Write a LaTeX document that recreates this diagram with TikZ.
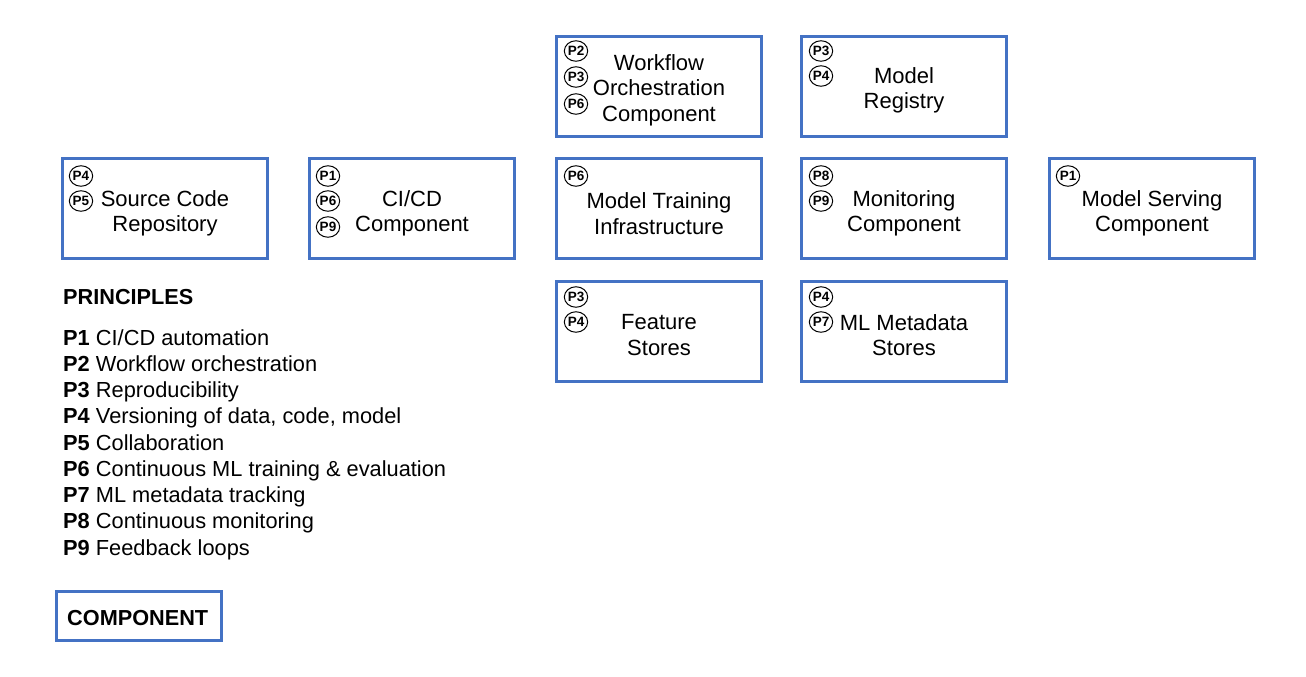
\documentclass[tikz,border=0pt]{standalone}
\usepackage{fontspec}
\usetikzlibrary{shapes.geometric}
\setmainfont{Liberation Sans}
\definecolor{boxblue}{HTML}{4472C4}
\begin{document}
\begin{tikzpicture}[x=1pt,y=-1pt,
  comp/.style={draw=boxblue,line width=3pt,minimum width=205pt,minimum height=100pt,inner sep=0pt,
    align=center,font=\fontsize{22}{25.5}\selectfont},
  badge/.style={draw,ellipse,line width=1pt,minimum width=22pt,minimum height=20.5pt,inner sep=0pt,
    font=\bfseries\fontsize{13.5}{14}\selectfont},
  txt/.style={align=center,font=\fontsize{22}{25.5}\selectfont}]
\useasboundingbox (0,0) rectangle (1306,677);
% boxes
\node[comp] (wf) at (659,86.5) {};
\node[txt] (wft) at (659,90) {Workflow\\Orchestration\\Component};
\node[badge] (wf1) at (576,51) {P2};
\node[badge] (wf2) at (576,77) {P3};
\node[badge] (wf3) at (576,104) {P6};

\node[comp] (mr) at (904,86.5) {};
\node[txt] (mrt) at (904,90.5) {Model\\Registry};
\node[badge] (mr1) at (821,51) {P3};
\node[badge] (mr2) at (821,76) {P4};

\node[comp] (sc) at (165,208.5) {};
\node[txt] (sct) at (165,213.5) {Source Code\\Repository};
\node[badge] (sc1) at (81,176) {P4};
\node[badge] (sc2) at (81,201) {P5};

\node[comp] (ci) at (412,208.5) {};
\node[txt] (cit) at (412,213.5) {CI/CD\\Component};
\node[badge] (ci1) at (328,176) {P1};
\node[badge] (ci2) at (328,201) {P6};
\node[badge] (ci3) at (328,227) {P9};

\node[comp] (tr) at (659,208.5) {};
\node[txt] (trt) at (659,213.5) {Model Training\\Infrastructure};
\node[badge] (tr1) at (576,176) {P6};

\node[comp] (mo) at (904,208.5) {};
\node[txt] (mot) at (904,213.5) {Monitoring\\Component};
\node[badge] (mo1) at (821,176) {P8};
\node[badge] (mo2) at (821,201) {P9};

\node[comp] (ms) at (1152,208.5) {};
\node[txt] (mst) at (1152,213.5) {Model Serving\\Component};
\node[badge] (ms1) at (1068,176) {P1};

\node[comp] (fs) at (659,331) {};
\node[txt] (fst) at (659,335) {Feature\\Stores};
\node[badge] (fs1) at (576,297) {P3};
\node[badge] (fs2) at (576,322) {P4};

\node[comp] (md) at (904,331) {};
\node[txt] (mdt) at (904,335) {ML Metadata\\Stores};
\node[badge] (md1) at (821,297) {P4};
\node[badge] (md2) at (821,322) {P7};

% principles
\node[anchor=west,inner sep=0pt,font=\bfseries\fontsize{21.7}{24}\selectfont] (pr) at (63,297) {PRINCIPLES};
\node[anchor=north west,inner sep=0pt,align=left,font=\fontsize{21.8}{26.25}\selectfont] (pl) at (63,329) {%
\textbf{P1} CI/CD automation\\
\textbf{P2} Workflow orchestration\\
\textbf{P3} Reproducibility\\
\textbf{P4} Versioning of data, code, model\\
\textbf{P5} Collaboration\\
\textbf{P6} Continuous ML training \& evaluation\\
\textbf{P7} ML metadata tracking\\
\textbf{P8} Continuous monitoring\\
\textbf{P9} Feedback loops};

\node[draw=boxblue,line width=3pt,minimum width=165pt,minimum height=49pt,inner sep=0pt,
  font=\bfseries\fontsize{21.7}{24}\selectfont] (legend) at (139,616) {};
\node[anchor=west,inner sep=0pt,font=\bfseries\fontsize{21.7}{24}\selectfont] (legendt) at (67,618) {COMPONENT};
\end{tikzpicture}
\end{document}
